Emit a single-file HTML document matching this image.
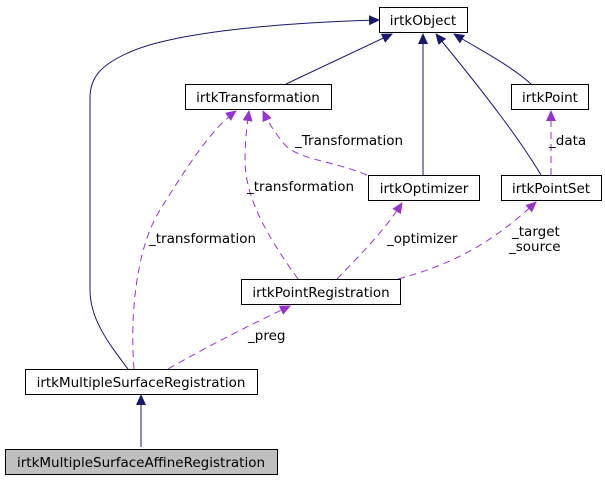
<!DOCTYPE html>
<html><head><style>
html,body{margin:0;padding:0;background:#fff;}
svg text{font-family:"DejaVu Sans","Liberation Sans",sans-serif;font-size:13.5px;fill:#000;}
</style></head><body>
<svg width="605" height="477" viewBox="0 0 605 477" xmlns="http://www.w3.org/2000/svg">
<defs>
<marker id="n" markerWidth="11" markerHeight="11" refX="10" refY="5" orient="auto" markerUnits="userSpaceOnUse"><path d="M0,0 L11,5 L0,10 z" fill="#191970"/></marker>
<marker id="p" markerWidth="11" markerHeight="11" refX="10" refY="5" orient="auto" markerUnits="userSpaceOnUse"><path d="M0,0 L11,5 L0,10 z" fill="#9a32cd"/></marker>
</defs>
<g fill="none" stroke="#191970" stroke-width="1">
<path d="M128,369 C110,345 90,320 90,290 L90,98 C90,78 100,65 130,52 C180,30 300,22 379,20" marker-end="url(#n)"/>
<path d="M286,84 L392,34" marker-end="url(#n)"/>
<path d="M423,175 L423,34" marker-end="url(#n)"/>
<path d="M541,175 C520,140 490,100 436,34" marker-end="url(#n)"/>
<path d="M531,84 C510,65 480,50 454,34" marker-end="url(#n)"/>
<path d="M141,447 L141,395" marker-end="url(#n)"/>
</g>
<g fill="none" stroke="#9a32cd" stroke-width="1" stroke-dasharray="7,5">
<path d="M134,369 C130,320 135,250 160,210 C185,170 210,130 236,111" marker-end="url(#p)"/>
<path d="M298,279 C270,240 245,200 245,160 C245,140 247,125 249,111" marker-end="url(#p)"/>
<path d="M367,175 C330,160 300,160 285,145 C275,133 268,122 263,111" marker-end="url(#p)"/>
<path d="M337,279 C360,255 385,230 402,203" marker-end="url(#p)"/>
<path d="M398,279 C450,265 490,245 536,202" marker-end="url(#p)"/>
<path d="M551,175 L551,111" marker-end="url(#p)"/>
<path d="M168,369 C210,345 250,325 290,306" marker-end="url(#p)"/>
</g>
<g fill="#fff" stroke="#000" stroke-width="1">
<rect x="379.5" y="7.5" width="88" height="25"/>
<rect x="185.5" y="84.5" width="146" height="25"/>
<rect x="511.5" y="84.5" width="77" height="25"/>
<rect x="368.5" y="175.5" width="111" height="25"/>
<rect x="501.5" y="175.5" width="100" height="25"/>
<rect x="241.5" y="279.5" width="159" height="25"/>
<rect x="25.5" y="369.5" width="232" height="25"/>
<rect x="5.5" y="449.5" width="272" height="25" fill="#bfbfbf"/>
</g>
<text x="423" y="25" text-anchor="middle">irtkObject</text>
<text x="258" y="102" text-anchor="middle">irtkTransformation</text>
<text x="550" y="102" text-anchor="middle">irtkPoint</text>
<text x="424" y="193" text-anchor="middle">irtkOptimizer</text>
<text x="551" y="193" text-anchor="middle">irtkPointSet</text>
<text x="321" y="297" text-anchor="middle">irtkPointRegistration</text>
<text x="141" y="387" text-anchor="middle">irtkMultipleSurfaceRegistration</text>
<text x="141" y="467" text-anchor="middle">irtkMultipleSurfaceAffineRegistration</text>
<text x="149" y="243">_transformation</text>
<text x="247" y="191">_transformation</text>
<text x="295" y="145">_Transformation</text>
<text x="387" y="243">_optimizer</text>
<text x="512" y="236">_target</text>
<text x="509" y="251">_source</text>
<text x="549" y="145">_data</text>
<text x="248" y="340">_preg</text>
</svg>
</body></html>
